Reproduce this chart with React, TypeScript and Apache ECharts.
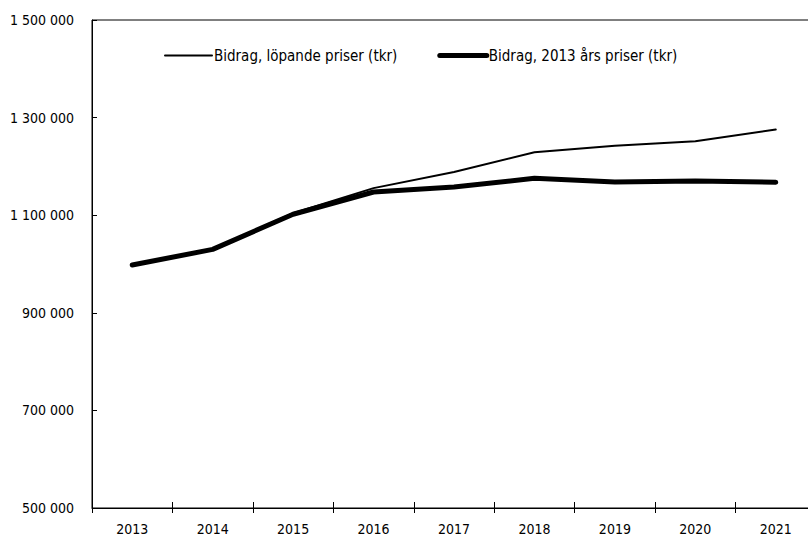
import React, { useEffect, useRef } from "react";
import * as echarts from "echarts";

const years = ["2013", "2014", "2015", "2016", "2017", "2018", "2019", "2020", "2021"];
const currentPrices = [998000, 1030500, 1104000, 1155500, 1188500, 1229000, 1242500, 1251500, 1275500];
const fixedPrices = [998000, 1030000, 1102000, 1147500, 1158000, 1175500, 1168000, 1170000, 1167500];
const seriesNames = ["Bidrag, löpande priser (tkr)", "Bidrag, 2013 års priser (tkr)"];

const FONT = "'DejaVu Sans Condensed', 'Liberation Sans Narrow', sans-serif";

const fmt = (v: number) => String(v).replace(/\B(?=(\d{3})+(?!\d))/g, " ");

export default function App() {
  const ref = useRef<HTMLDivElement>(null);
  useEffect(() => {
    const chart = echarts.init(ref.current!, null, { renderer: "svg" });
    chart.setOption({
      animation: false,
      backgroundColor: "#fff",
      textStyle: { fontFamily: FONT, color: "#000" },
      grid: {
        left: 92,
        top: 20,
        width: 724,
        height: 488,
        show: true,
        borderColor: "#000",
        borderWidth: 1,
        containLabel: false,
        outerBoundsMode: "none",
      },
      legend: {
        left: 159,
        top: 43,
        itemWidth: 47,
        itemHeight: 14,
        itemGap: 40,
        itemStyle: { opacity: 0 },
        textStyle: { fontFamily: FONT, fontSize: 15, color: "#000", padding: [0, 0, 0, -3] },
        data: [
          { name: seriesNames[0], lineStyle: { width: 2, color: "#000" } },
          { name: seriesNames[1], lineStyle: { width: 5, color: "#000", cap: "round" } },
        ],
      },
      xAxis: [
        {
          type: "category",
          data: years,
          boundaryGap: true,
          axisLine: { show: true, lineStyle: { color: "#000", width: 1 } },
          axisTick: { show: true, length: 5, inside: false, lineStyle: { color: "#000" } },
          axisLabel: { fontFamily: FONT, fontSize: 14, color: "#000", margin: 14 },
          splitLine: { show: false },
        },
        {
          type: "category",
          data: years,
          position: "bottom",
          boundaryGap: true,
          axisLine: { show: false },
          axisTick: { show: true, length: 6, inside: true, lineStyle: { color: "#000" } },
          axisLabel: { show: false },
          splitLine: { show: false },
        },
      ],
      yAxis: {
        type: "value",
        min: 500000,
        max: 1500000,
        interval: 200000,
        axisLine: { show: true, lineStyle: { color: "#000", width: 1 } },
        axisTick: { show: true, inside: true, length: 5, lineStyle: { color: "#000" } },
        axisLabel: { fontFamily: FONT, fontSize: 14, color: "#000", margin: 18, formatter: (v: number) => fmt(v) },
        splitLine: { show: false },
      },
      series: [
        {
          name: seriesNames[0],
          type: "line",
          data: currentPrices,
          symbol: "none",
          lineStyle: { color: "#000", width: 2, cap: "round" },
          itemStyle: { color: "#000" },
        },
        {
          name: seriesNames[1],
          type: "line",
          data: fixedPrices,
          symbol: "none",
          lineStyle: { color: "#000", width: 5, cap: "round" },
          itemStyle: { color: "#000" },
        },
      ],
    });
    return () => chart.dispose();
  }, []);
  return <div ref={ref} style={{ width: 808, height: 539, position: "absolute", left: 0, top: 0 }} />;
}
